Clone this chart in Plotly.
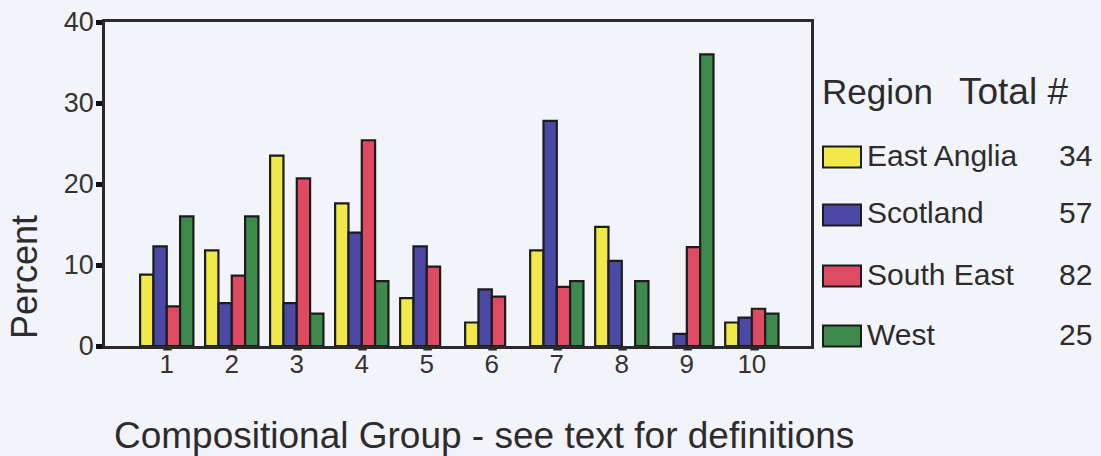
import plotly.graph_objects as go

# compositional groups and percent of samples per region (None = no bar)
groups = [1, 2, 3, 4, 5, 6, 7, 8, 9, 10]
group_labels = ['1', '2', '3', '4', '5', '6', '7', '8', '9', '10']
regions = ['East Anglia', 'Scotland', 'South East', 'West']
totals = [34, 57, 82, 25]

east_anglia = [8.8, 11.8, 23.5, 17.6, 5.9, 2.9, 11.8, 14.7, None, 2.9]
scotland = [12.3, 5.3, 5.3, 14.0, 12.3, 7.0, 27.8, 10.5, 1.5, 3.5]
south_east = [4.9, 8.7, 20.7, 25.4, 9.8, 6.1, 7.3, None, 12.2, 4.6]
west = [16.0, 16.0, 4.0, 8.0, None, None, 8.0, 8.0, 36.0, 4.0]

colors = ['#f1e84a', '#4b48a6', '#de4a62', '#3d8a4c']
series = [east_anglia, scotland, south_east, west]

FONT = 'Arial, Liberation Sans, sans-serif'
INK = '#2a2a2a'
TXT = '#2c2c2c'
BG = '#f3f4fa'

W, H = 1101, 456
L, R, T, B = 105, 811, 22, 346   # plot area in pixels


def px(x):
    return (x - L) / (R - L)


def py(y):
    return (B - y) / (B - T)


fig = go.Figure()
for name, vals, col in zip(regions, series, colors):
    fig.add_trace(go.Bar(x=groups, y=vals, name=name, marker=dict(color=col, line=dict(color='#1c1c1c', width=2.2)),
                         showlegend=False))

# little overline dashes above each group number, drawn as headless arrows
for g, lab in zip(groups, group_labels):
    w = 10
    shift = w / 2 if len(lab) == 1 else w / 2 + 2
    fig.add_annotation(x=g, xref='x', y=py(349.5), yref='paper', text='', showarrow=True, arrowhead=0,
                       ax=-w, ay=0, xshift=shift, arrowwidth=2.2, arrowcolor=INK, standoff=0, startstandoff=0)

fig.update_layout(
    width=W, height=H,
    margin=dict(l=L, r=W - R, t=T, b=H - B),
    paper_bgcolor=BG, plot_bgcolor=BG,
    barmode='group', bargap=0.18, bargroupgap=0,
    font=dict(family=FONT, size=25, color=INK),
)
fig.update_xaxes(range=[0.05, 10.91], tickvals=groups, ticktext=group_labels, ticks='', ticklen=0, showgrid=False,
                 zeroline=False, showline=True, linecolor=INK, linewidth=2.5, mirror=True, automargin=False,
                 tickfont=dict(size=26, color='#333'), ticklabelstandoff=-7)
fig.update_yaxes(range=[0, 40], tickvals=[0, 10, 20, 30, 40], ticks='outside', ticklen=6, tickwidth=5,
                 tickcolor='#111', showgrid=False, zeroline=False, showline=True, linecolor=INK, linewidth=2.5,
                 mirror=True, automargin=False, tickfont=dict(size=27, color='#333'), ticklabelstandoff=-3)

# axis titles
fig.add_annotation(text='Compositional Group - see text for definitions', xref='paper', yref='paper',
                   x=px(484), y=py(436), xanchor='center', yanchor='middle', showarrow=False,
                   font=dict(size=37, color=TXT))
fig.add_annotation(text='Percent', xref='paper', yref='paper', x=px(24), y=py(277), textangle=-90,
                   xanchor='center', yanchor='middle', showarrow=False, font=dict(size=36, color=TXT))

# legend drawn by hand: region name, swatch, total count
fig.add_annotation(text='Region', xref='paper', yref='paper', x=px(820), y=py(92), xanchor='left',
                   yanchor='middle', showarrow=False, font=dict(size=35, color=TXT))
fig.add_annotation(text='Total #', xref='paper', yref='paper', x=px(957), y=py(92), xanchor='left',
                   yanchor='middle', showarrow=False, font=dict(size=37, color=TXT))
rows_y = [157, 215, 276, 336]
for name, tot, col, yc in zip(regions, totals, colors, rows_y):
    fig.add_shape(type='rect', xref='paper', yref='paper', x0=px(823), x1=px(861), y0=py(yc + 10.5),
                  y1=py(yc - 10.5), fillcolor=col, line=dict(color='#1c1c1c', width=2))
    fig.add_annotation(text=name, xref='paper', yref='paper', x=px(865), y=py(yc - 2), xanchor='left',
                       yanchor='middle', showarrow=False, font=dict(size=30, color=TXT))
    fig.add_annotation(text=str(tot), xref='paper', yref='paper', x=px(1094), y=py(yc - 2), xanchor='right',
                       yanchor='middle', showarrow=False, font=dict(size=30, color=TXT))

fig.write_html('out.html', config={'displayModeBar': False}, post_script="document.body.style.margin='0';")
